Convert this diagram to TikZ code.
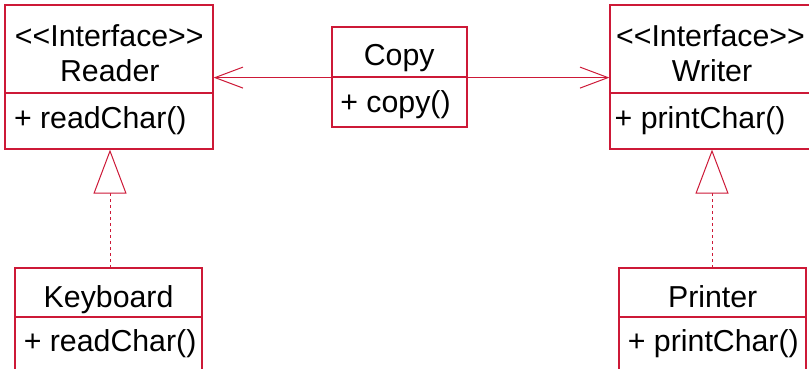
\documentclass[tikz,border=0pt]{standalone}
\usepackage{fontspec}
\setmainfont{Liberation Sans}
\usetikzlibrary{arrows.meta,calc}
\definecolor{umlred}{RGB}{205,25,55}
\newcommand{\umlfont}{\fontsize{30.3}{35}\selectfont}
\newcommand{\stereo}{<\kern0pt<Interface>\kern0pt>}
\tikzset{
  comp/.style={draw=umlred, line width=1.2pt, inner sep=0pt},
  txt/.style={font=\umlfont, text=black, inner sep=0pt},
  ctxt/.style={txt, anchor=base},
  ltxt/.style={txt, anchor=base west},
  assoc/.style={draw=umlred, line width=1pt, -{Straight Barb[length=28pt,width=21pt,line width=1pt]}},
  realize/.style={draw=umlred, line width=1pt, dash pattern=on 3pt off 3pt,
     {Triangle[open,length=44pt,width=33pt,fill=white,line width=1pt]}-}
}
\begin{document}
\begin{tikzpicture}[x=1pt,y=-1pt]
\useasboundingbox (0,0) rectangle (809,368);
\clip (0,0) rectangle (809,368);
% Reader
\node[comp, minimum width=208pt, minimum height=88pt] (rt) at (109,49) {};
\node[comp, minimum width=208pt, minimum height=56pt] (rb) at (109,121) {};
% Writer
\node[comp, minimum width=204pt, minimum height=88pt] (wt) at (712,49) {};
\node[comp, minimum width=204pt, minimum height=56pt] (wb) at (712,121) {};
% Copy
\node[comp, minimum width=135pt, minimum height=50pt] (ct) at (399.5,52) {};
\node[comp, minimum width=135pt, minimum height=50pt] (cb) at (399.5,102) {};
% Keyboard
\node[comp, minimum width=187pt, minimum height=49pt] (kt) at (108.5,292.5) {};
\node[comp, minimum width=187pt, minimum height=56pt] (kb) at (108.5,345) {};
% Printer
\node[comp, minimum width=187pt, minimum height=49pt] (pt) at (712.5,292.5) {};
\node[comp, minimum width=187pt, minimum height=56pt] (pb) at (712.5,345) {};
% associations
\draw[assoc] (ct.south west) -- (ct.south west -| rt.east);
\draw[assoc] (ct.south east) -- (ct.south east -| wt.west);
% realizations
\draw[realize] ([xshift=1pt]rb.south) -- ([xshift=1pt]rb.south |- kt.north);
\draw[realize] (wb.south) -- (wb.south |- pt.north);
% texts
\node[ctxt] (rt1) at (109.3,46.7) {\stereo};
\node[ctxt] (rt2) at (109.8,81.7) {Reader};
\node[ltxt] (rb1) at (13.8,128) {+ readChar()};
\node[ctxt] (wt1) at (710.5,46.7) {\stereo};
\node[ctxt] (wt2) at (712,81.7) {Writer};
\node[ltxt] (wb1) at (614.5,128) {+ printChar()};
\node[ctxt] (ct1) at (399.2,65) {Copy};
\node[ltxt] (cb1) at (340.2,112) {+ copy()};
\node[ctxt] (kt1) at (108.6,307.7) {Keyboard};
\node[ltxt] (kb1) at (23.6,351.7) {+ readChar()};
\node[ctxt] (pt1) at (712.7,307.3) {Printer};
\node[ltxt] (pb1) at (627.7,351.7) {+ printChar()};
\end{tikzpicture}
\end{document}
